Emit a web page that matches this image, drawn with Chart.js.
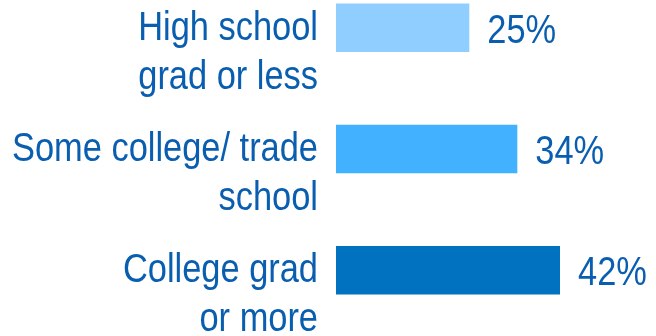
<!DOCTYPE html>
<html>
<head>
<meta charset="utf-8">
<script src="https://cdn.jsdelivr.net/npm/chart.js@4/dist/chart.umd.min.js"></script>
<style>
    html, body {
        margin: 0;
        padding: 0;
        background: #ffffff;
        overflow: hidden;
    }
    #wrap {
        position: relative;
        width: 656px;
        height: 336px;
        overflow: hidden;
    }
    #eduChart {
        position: absolute;
        left: 0;
        top: -33px;
    }
</style>
</head>
<body>
<div id="wrap">
    <canvas id="eduChart" width="656" height="364"></canvas>
</div>
<script>
const educationLabels = [
    ["High school", "grad or less"],
    ["Some college/ trade", "school"],
    ["College grad", "or more"]
];
const sharePercent = [25, 34, 42];
const barColors = ["#8fceff", "#42b1ff", "#0072c0"];

const textBlue = "#0a5eb0";
const fontFamily = "'Liberation Sans', Arial, sans-serif";
const fontSize = 40;
const lineGap = 49;
// the type is set narrow, so squeeze it sideways
const squeeze = 0.86;

function narrowText(ctx, text, x, y) {
    ctx.save();
    ctx.scale(squeeze, 1);
    ctx.fillText(text, x / squeeze, y);
    ctx.restore();
}

// category names to the left of the bars, value "NN%" past the bar end
const barText = {
    id: "barText",
    afterDatasetsDraw(chart) {
        const { ctx, chartArea } = chart;
        const yScale = chart.scales.y;
        const meta = chart.getDatasetMeta(0);
        ctx.save();
        ctx.font = fontSize + "px " + fontFamily;
        ctx.fillStyle = textBlue;
        ctx.textBaseline = "alphabetic";

        ctx.textAlign = "right";
        educationLabels.forEach(function (lines, i) {
            const yc = yScale.getPixelForValue(i);
            lines.forEach(function (line, k) {
                narrowText(ctx, line, chartArea.left - 18, yc + 12 + k * lineGap);
            });
        });

        ctx.textAlign = "left";
        meta.data.forEach(function (bar, i) {
            narrowText(ctx, sharePercent[i] + "%", bar.x + 18, bar.y + 15);
        });
        ctx.restore();
    }
};

const canvas = document.getElementById("eduChart");

const eduChart = new Chart(canvas, {
    type: "bar",
    data: {
        labels: educationLabels.map(function (l) { return l.join(" "); }),
        datasets: [{
            data: sharePercent,
            backgroundColor: barColors,
            borderWidth: 0,
            categoryPercentage: 1,
            barPercentage: 0.4
        }]
    },
    options: {
        indexAxis: "y",
        responsive: false,
        animation: false,
        devicePixelRatio: 1,
        layout: {
            autoPadding: false,
            padding: { left: 336, right: 0, top: 0, bottom: 0 }
        },
        plugins: {
            legend: { display: false },
            tooltip: { enabled: false }
        },
        scales: {
            x: {
                display: false,
                min: 0,
                max: 60
            },
            y: {
                display: false
            }
        }
    },
    plugins: [barText]
});
</script>
</body>
</html>
